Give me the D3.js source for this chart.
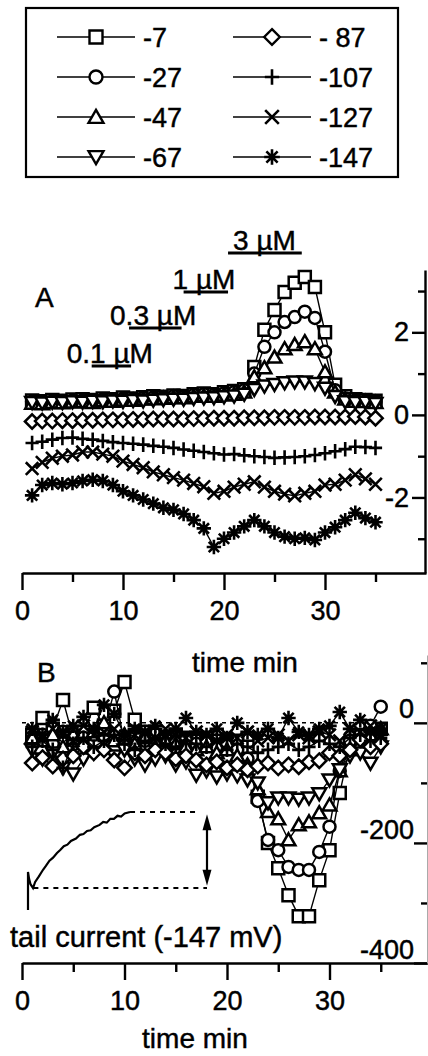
<!DOCTYPE html>
<html>
<head>
<meta charset="utf-8">
<script src="https://cdn.jsdelivr.net/npm/d3@7"></script>
<style>
  body { margin: 0; background: #fff; }
  svg { display: block; font-family: "Liberation Sans", Arial, sans-serif; }
  text { stroke: #000; stroke-width: 0.45px; }
</style>
</head>
<body>
<svg width="428" height="1056"></svg>
<script>
// sample times (min), same for both panels
const time = [1, 2, 3, 4, 5, 6, 7, 8, 9, 10, 11, 12, 13, 14, 15, 16, 17, 18, 19, 20,
              21, 22, 23, 24, 25, 26, 27, 28, 29, 30, 31, 32, 33, 34, 35];

// legend / series names (test potential, mV)
const seriesNames = ['-7', '-27', '-47', '-67', '- 87', '-107', '-127', '-147'];
const markerTypes = ['square', 'circle', 'triangle', 'triangleDown', 'diamond', 'plus', 'cross', 'star'];

// panel A values
const a7   = [0.35,0.33,0.36,0.34,0.37,0.38,0.36,0.4,0.38,0.42, 0.4,0.43,0.45,0.44,0.47,0.46,0.5,0.52,0.5,0.55,
              0.58,0.62,1.16,2.06,2.54,2.98,3.2,3.34,3.1,2.0, 0.73,0.45,0.38,0.36,0.34];
const a27  = [0.32,0.3,0.33,0.31,0.34,0.35,0.33,0.37,0.36,0.39, 0.38,0.41,0.42,0.42,0.45,0.44,0.48,0.5,0.48,0.52,
              0.55,0.6,1.0,1.65,2.0,2.25,2.37,2.5,2.35,1.53, 0.6,0.4,0.35,0.33,0.32];
const a47  = [0.28,0.27,0.3,0.29,0.31,0.32,0.3,0.34,0.33,0.36, 0.35,0.38,0.39,0.4,0.42,0.41,0.45,0.46,0.45,0.48,
              0.5,0.55,0.92,1.14,1.4,1.6,1.7,1.77,1.6,1.04, 0.55,0.38,0.33,0.32,0.3];
const a67  = [0.3,0.29,0.31,0.3,0.32,0.31,0.33,0.32,0.34,0.33, 0.35,0.34,0.36,0.37,0.38,0.38,0.4,0.41,0.42,0.44,
              0.46,0.5,0.62,0.7,0.74,0.78,0.8,0.8,0.76,0.65, 0.45,0.32,0.3,0.31,0.28];
const a87  = [-0.16,-0.15,-0.15,-0.14,-0.14,-0.13,-0.13,-0.12,-0.12,-0.12, -0.11,-0.11,-0.1,-0.1,-0.1,-0.1,-0.09,-0.09,-0.08,-0.08,
              -0.08,-0.07,-0.07,-0.07,-0.06,-0.06,-0.06,-0.06,-0.05,-0.05, -0.05,-0.05,-0.04,-0.05,-0.08];
const a107 = [-0.68,-0.65,-0.6,-0.56,-0.55,-0.58,-0.6,-0.63,-0.66,-0.68, -0.7,-0.72,-0.75,-0.77,-0.8,-0.84,-0.87,-0.9,-0.93,-0.96,
              -0.95,-0.98,-1.0,-1.02,-1.04,-1.03,-1.02,-1.0,-0.97,-0.93, -0.88,-0.83,-0.77,-0.78,-0.8];
const a127 = [-1.3,-1.15,-1.05,-1.0,-0.97,-0.9,-0.9,-0.95,-1.0,-1.12, -1.2,-1.28,-1.38,-1.45,-1.52,-1.58,-1.66,-1.74,-1.9,-1.85,
              -1.75,-1.68,-1.62,-1.75,-1.85,-1.92,-1.96,-1.9,-1.85,-1.7, -1.68,-1.58,-1.45,-1.55,-1.68];
const a147 = [-1.95,-1.7,-1.65,-1.68,-1.65,-1.6,-1.57,-1.6,-1.7,-1.85, -1.95,-2.05,-2.15,-2.25,-2.3,-2.4,-2.55,-2.75,-3.2,-3.0,
              -2.85,-2.7,-2.55,-2.7,-2.85,-2.95,-3.0,-2.98,-3.03,-2.85, -2.72,-2.55,-2.37,-2.5,-2.6];

// panel B values (tail current)
const b7   = [-20,8,-10,38,-25,-15,25,-5,20,68, 5,-15,-20,-25,-20,-25,-30,-25,-30,-35,
              -30,-40,-123,-200,-242,-287,-322,-322,-262,-212, -117,-40,-25,-20,-10];
const b27  = [-30,-20,-35,-15,-30,-25,-20,-10,52,-33, -20,-30,-35,-25,-30,-28,-35,-30,-40,-35,
              -45,-60,-130,-195,-212,-240,-245,-245,-215,-173, -80,-30,-20,-5,27];
const b47  = [-25,-30,-20,-40,-20,-35,-15,0,-30,-20, -35,-25,-40,-30,-35,-40,-45,-40,-50,-45,
              -55,-70,-110,-148,-160,-195,-170,-165,-150,-137, -80,-45,-35,-20,-10];
const b67  = [-45,-60,-50,-75,-85,-60,-50,-30,-55,-45, -60,-70,-60,-55,-70,-65,-87,-80,-90,-85,
              -88,-95,-100,-133,-125,-125,-127,-125,-118,-95, -78,-55,-50,-67,-40];
const b87  = [-67,-58,-72,-60,-55,-40,-50,-45,-62,-75, -50,-55,-45,-50,-60,-55,-62,-70,-65,-75,
              -70,-78,-72,-67,-75,-70,-73,-65,-63,-50, -55,-45,-28,-40,-35];
const b107 = [-40,-30,-45,-75,-35,-25,-40,-30,-20,-35, -45,-30,-25,-35,-40,-30,-35,-40,-30,-45,
              -35,-40,-50,-45,-40,-35,-45,-40,-30,-35, -40,-25,-20,-30,-25];
const b127 = [-15,-25,-10,-20,-30,-5,-20,-15,-10,-25, -20,-15,-25,-10,-20,-25,-15,-20,-30,-20,
              -25,-15,-30,-25,-20,-30,-20,-25,-15,-20, -30,-10,-15,-5,-20];
const b147 = [-10,-20,5,-15,-5,10,-10,30,15,-20, -10,-15,-5,-20,-10,8,-15,-20,-10,-25,
              0,-15,-20,-10,-25,8,-15,-20,-10,-5, 18,-10,5,-15,-10];

// drug application periods (min)
const drugLabels = ['0.1 µM', '0.3 µM', '1 µM', '3 µM'];
const drugStart = [6.9, 10.6, 16.0, 20.4];
const drugEnd = [10.8, 15.8, 20.4, 27.7];

// inset: tail current trace (ms, normalised)
const insetT = [0, 0, 0.6, 1.4, 2.8, 4, 6, 8.4, 10, 12, 14, 16.2, 18, 20, 22, 24, 26.8, 29, 31, 33,
                35, 37, 40, 42, 44, 46, 48, 50, 52, 54, 57];
const insetV = [-0.29, 0.21, 0.12, 0.05, 0.0, 0.08, 0.15, 0.24, 0.29, 0.36, 0.4, 0.46, 0.5, 0.55, 0.57, 0.62,
                0.65, 0.7, 0.71, 0.75, 0.76, 0.8, 0.83, 0.87, 0.86, 0.91, 0.91, 0.95, 0.94, 0.98, 1.0];

const svg = d3.select('svg');
const FONT = '"Liberation Sans", Arial, sans-serif';

const markerPath = (type, s) => {
    switch (type) {
        case 'square': return `M${-s},${-s}h${2 * s}v${2 * s}h${-2 * s}Z`;
        case 'circle': return `M${s},0A${s},${s} 0 1,1 ${-s},0A${s},${s} 0 1,1 ${s},0Z`;
        case 'triangle': return `M0,${-s * 1.1}L${s * 1.15},${s * 0.9}L${-s * 1.15},${s * 0.9}Z`;
        case 'triangleDown': return `M0,${s * 1.1}L${s * 1.15},${-s * 0.9}L${-s * 1.15},${-s * 0.9}Z`;
        case 'diamond': { const d = s * 1.2; return `M0,${-d}L${d},0L0,${d}L${-d},0Z`; }
        case 'plus': { const p = s * 1.1; return `M${-p},0H${p}M0,${-p * 1.1}V${p * 1.1}`; }
        case 'cross': { const c = s * 1.05; return `M${-c},${-c}L${c},${c}M${-c},${c}L${c},${-c}`; }
        case 'star': {
            const r = s * 1.2, d = r * 0.72;
            return `M${-r},0H${r}M0,${-r}V${r}M${-d},${-d}L${d},${d}M${-d},${d}L${d},${-d}`;
        }
    }
};
const isOpen = t => ['square', 'circle', 'triangle', 'triangleDown', 'diamond'].includes(t);

// ---------- legend ----------
const legend = svg.append('g');
legend.append('rect')
    .attr('x', 26).attr('y', 8).attr('width', 372).attr('height', 169)
    .attr('fill', 'none').attr('stroke', '#000').attr('stroke-width', 2.2);
seriesNames.forEach((name, i) => {
    const col = Math.floor(i / 4), row = i % 4;
    const x0 = col === 0 ? 57 : 233;
    const y = 37 + row * 40;
    const g = legend.append('g');
    g.append('line').attr('x1', x0).attr('x2', x0 + 78).attr('y1', y).attr('y2', y)
        .attr('stroke', '#000').attr('stroke-width', 1.6);
    g.append('path').attr('d', markerPath(markerTypes[i], 6.5))
        .attr('transform', `translate(${x0 + 39},${y})`)
        .attr('fill', isOpen(markerTypes[i]) ? '#fff' : 'none')
        .attr('stroke', '#000').attr('stroke-width', isOpen(markerTypes[i]) ? 2.4 : 2.6);
    g.append('text').attr('x', x0 + 86).attr('y', y + 10)
        .attr('font-size', 27).text(name);
});

// ---------- helpers ----------
const drawSeries = (g, data, x, y, s) => {
    data.forEach((vals, i) => {
        const pts = time.map((t, j) => [t, vals[j]]);
        g.append('path')
            .attr('d', d3.line().x(d => x(d[0])).y(d => y(d[1]))(pts))
            .attr('fill', 'none').attr('stroke', '#000').attr('stroke-width', 1.4);
        g.selectAll(null).data(pts).enter().append('path')
            .attr('d', markerPath(markerTypes[i], s))
            .attr('transform', d => `translate(${x(d[0])},${y(d[1])})`)
            .attr('fill', isOpen(markerTypes[i]) ? '#fff' : 'none')
            .attr('stroke', '#000').attr('stroke-width', isOpen(markerTypes[i]) ? 2.5 : 2.6);
    });
};
const styleAxis = g => {
    g.attr('font-family', FONT).attr('font-size', 27);
    g.selectAll('path,line').attr('stroke', '#000').attr('stroke-width', 2.4);
    g.selectAll('text').attr('fill', '#000');
};

// ---------- panel A ----------
const xA = d3.scaleLinear().domain([0, 40]).range([22, 426]);
const yA = d3.scaleLinear().domain([-3.83, 3.51]).range([573, 270]);

const gA = svg.append('g');
drawSeries(gA, [a7, a27, a47, a67, a87, a107, a127, a147], xA, yA, 6);

gA.append('g').attr('transform', 'translate(0,573)')
    .call(d3.axisBottom(xA).tickValues([0, 10, 20, 30]).tickSize(17).tickSizeOuter(0).tickPadding(11))
    .call(styleAxis);
gA.append('g').attr('transform', 'translate(0,573)')
    .call(d3.axisBottom(xA).tickValues([5, 15, 25, 35]).tickSize(9).tickFormat(''))
    .call(styleAxis).call(g => g.select('.domain').remove());
gA.append('g').attr('transform', 'translate(425,0)')
    .call(d3.axisLeft(yA).tickValues([-2, 0, 2]).tickSize(13).tickSizeOuter(0).tickPadding(3).tickFormat(d => String(d)))
    .call(styleAxis);
gA.append('g').attr('transform', 'translate(425,0)')
    .call(d3.axisLeft(yA).tickValues([-3, -1, 1, 3]).tickSize(7).tickFormat(''))
    .call(styleAxis).call(g => g.select('.domain').remove());

gA.append('text').attr('x', 245).attr('y', 672).attr('text-anchor', 'middle')
    .attr('font-size', 28).text('time min');
gA.append('text').attr('x', 35).attr('y', 307).attr('font-size', 28).text('A');

// concentration bars
const labelDx = [-25, -19, -11, 5];
const labelY = [363, 325, 289, 250];
drugLabels.forEach((lab, i) => {
    gA.append('line')
        .attr('x1', xA(drugStart[i])).attr('x2', xA(drugEnd[i]))
        .attr('y1', labelY[i] + 3).attr('y2', labelY[i] + 3)
        .attr('stroke', '#000').attr('stroke-width', 3.2);
    gA.append('text').attr('x', xA(drugStart[i]) + labelDx[i]).attr('y', labelY[i])
        .attr('font-size', 28).text(lab);
});

// ---------- panel B ----------
const xB = d3.scaleLinear().domain([0, 40]).range([22, 432]);
const yB = d3.scaleLinear().domain([-400, 113]).range([963, 655]);

const gB = svg.append('g');
gB.append('line').attr('x1', xB(0)).attr('x2', xB(33)).attr('y1', yB(0)).attr('y2', yB(0))
    .attr('stroke', '#000').attr('stroke-width', 1.5).attr('stroke-dasharray', '4,4');
drawSeries(gB, [b7, b27, b47, b67, b87, b107, b127, b147], xB, yB, 6);

gB.append('g').attr('transform', 'translate(0,963)')
    .call(d3.axisBottom(xB).tickValues([0, 10, 20, 30]).tickSize(17).tickSizeOuter(0).tickPadding(11))
    .call(styleAxis);
gB.append('g').attr('transform', 'translate(0,963)')
    .call(d3.axisBottom(xB).tickValues([5, 15, 25, 35]).tickSize(9).tickFormat(''))
    .call(styleAxis).call(g => g.select('.domain').remove());
gB.append('g').attr('transform', 'translate(427,0)')
    .call(d3.axisLeft(yB).tickValues([-400, -200, 0]).tickSize(13).tickSizeOuter(0).tickPadding(0).tickFormat(d => String(d)))
    .call(styleAxis)
    .call(g => g.select('.domain').attr('stroke', '#aaa').attr('stroke-width', 1))
    .call(g => g.selectAll('text').attr('dy', '-0.18em'));
gB.append('g').attr('transform', 'translate(427,0)')
    .call(d3.axisLeft(yB).tickValues([-300, -100, 100]).tickSize(6).tickFormat(''))
    .call(styleAxis).call(g => g.select('.domain').remove());

gB.append('text').attr('x', 195).attr('y', 1048).attr('text-anchor', 'middle')
    .attr('font-size', 28).text('time min');
gB.append('text').attr('x', 37).attr('y', 682).attr('font-size', 28).text('B');

// inset trace
const xI = d3.scaleLinear().domain([0, 100]).range([28, 207]);
const yI = d3.scaleLinear().domain([0, 1]).range([888, 812]);
const gI = svg.append('g');
gI.append('path')
    .attr('d', d3.line().x((d, i) => xI(insetT[i])).y(d => yI(d))(insetV))
    .attr('fill', 'none').attr('stroke', '#000').attr('stroke-width', 2.2);
gI.append('line').attr('x1', xI(57)).attr('x2', xI(96)).attr('y1', yI(1)).attr('y2', yI(1))
    .attr('stroke', '#000').attr('stroke-width', 2).attr('stroke-dasharray', '5,5');
gI.append('line').attr('x1', xI(3)).attr('x2', xI(100)).attr('y1', yI(0)).attr('y2', yI(0))
    .attr('stroke', '#000').attr('stroke-width', 2).attr('stroke-dasharray', '5,5');
gI.append('line').attr('x1', xI(100)).attr('x2', xI(100)).attr('y1', yI(0.85)).attr('y2', yI(0.15))
    .attr('stroke', '#000').attr('stroke-width', 2.2);
// arrowheads: tip at v, base toward the middle
[[0.97, 1], [0.03, -1]].forEach(([v, dir]) => {
    const ax = xI(100), ay = yI(v);
    gI.append('path')
        .attr('d', `M${ax},${ay}L${ax - 4.5},${ay + dir * 16}L${ax + 4.5},${ay + dir * 16}Z`)
        .attr('fill', '#000');
});
gB.append('text').attr('x', 10).attr('y', 947).attr('font-size', 29).text('tail current (-147 mV)');
</script>
</body>
</html>
